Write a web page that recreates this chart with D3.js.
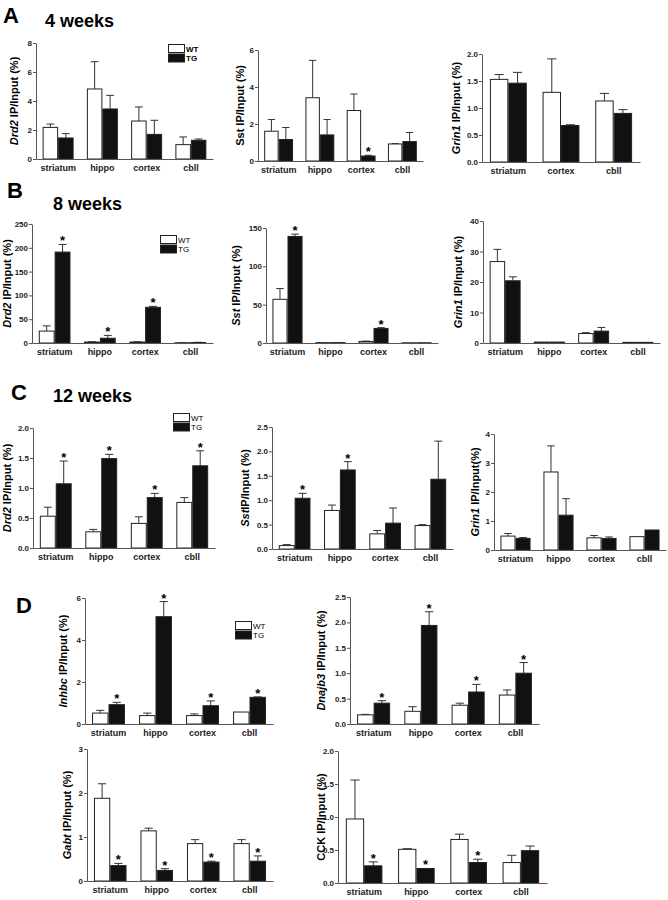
<!DOCTYPE html>
<html>
<head>
<meta charset="utf-8">
<script src="https://cdn.jsdelivr.net/npm/d3@7"></script>
<style>
  body { margin: 0; background: #fff; }
  text { font-family: "Liberation Sans", Arial, sans-serif; }
</style>
</head>
<body>
<div id="fig"></div>
<script>
// categories
var regions = ["striatum", "hippo", "cortex", "cbll"]
var regions3 = ["striatum", "cortex", "cbll"]
var groups = ["WT", "TG"]

// A: 4 weeks
var drd2_4w_wt = [2.18, 4.83, 2.62, 0.99], drd2_4w_wtErr = [0.23, 1.88, 0.97, 0.53]
var drd2_4w_tg = [1.45, 3.45, 1.70, 1.29], drd2_4w_tgErr = [0.30, 0.94, 0.97, 0.09]
var drd2_4w_sig = [0, 0, 0, 0]
var sst_4w_wt = [1.61, 3.42, 2.73, 0.92], sst_4w_wtErr = [0.63, 2.02, 0.89, 0.02]
var sst_4w_tg = [1.16, 1.41, 0.27, 1.05], sst_4w_tgErr = [0.65, 0.83, 0.04, 0.49]
var sst_4w_sig = [0, 0, 1, 0]
var grin1_4w_wt = [1.53, 1.29, 1.13], grin1_4w_wtErr = [0.09, 0.62, 0.14]
var grin1_4w_tg = [1.46, 0.675, 0.90], grin1_4w_tgErr = [0.20, 0.015, 0.07]
var grin1_4w_sig = [0, 0, 0]

// B: 8 weeks
var drd2_8w_wt = [25, 2, 2, 0.5], drd2_8w_wtErr = [11, 0.5, 0.5, 0.2]
var drd2_8w_tg = [191, 10, 75, 1], drd2_8w_tgErr = [16, 6, 2, 0.5]
var drd2_8w_sig = [1, 1, 1, 0]
var sst_8w_wt = [57, 0.5, 2, 0.3], sst_8w_wtErr = [14, 0, 0.5, 0]
var sst_8w_tg = [139, 0.5, 19, 0.3], sst_8w_tgErr = [3, 0, 1, 0]
var sst_8w_sig = [1, 0, 1, 0]
var grin1_8w_wt = [26.7, 0.3, 3.1, 0.2], grin1_8w_wtErr = [4, 0, 0.3, 0]
var grin1_8w_tg = [20.4, 0.3, 3.9, 0.2], grin1_8w_tgErr = [1.3, 0, 1.2, 0]
var grin1_8w_sig = [0, 0, 0, 0]

// C: 12 weeks
var drd2_12w_wt = [0.53, 0.27, 0.41, 0.76], drd2_12w_wtErr = [0.15, 0.04, 0.11, 0.08]
var drd2_12w_tg = [1.07, 1.49, 0.84, 1.37], drd2_12w_tgErr = [0.38, 0.07, 0.07, 0.25]
var drd2_12w_sig = [1, 1, 1, 1]
var sst_12w_wt = [0.07, 0.79, 0.31, 0.48], sst_12w_wtErr = [0.02, 0.11, 0.07, 0.02]
var sst_12w_tg = [1.04, 1.62, 0.53, 1.43], sst_12w_tgErr = [0.10, 0.17, 0.31, 0.78]
var sst_12w_sig = [1, 1, 0, 0]
var grin1_12w_wt = [0.48, 2.69, 0.42, 0.46], grin1_12w_wtErr = [0.09, 0.90, 0.08, 0]
var grin1_12w_tg = [0.40, 1.20, 0.40, 0.69], grin1_12w_tgErr = [0.03, 0.57, 0.05, 0]
var grin1_12w_sig = [0, 0, 0, 0]

// D: other genes
var inhbc_wt = [0.52, 0.40, 0.40, 0.57], inhbc_wtErr = [0.13, 0.12, 0.08, 0]
var inhbc_tg = [0.92, 5.11, 0.87, 1.27], inhbc_tgErr = [0.11, 0.72, 0.23, 0.02]
var inhbc_sig = [1, 1, 1, 1]
var dnajb3_wt = [0.18, 0.25, 0.37, 0.57], dnajb3_wtErr = [0.01, 0.09, 0.04, 0.10]
var dnajb3_tg = [0.41, 1.94, 0.63, 1.00], dnajb3_tgErr = [0.05, 0.27, 0.15, 0.21]
var dnajb3_sig = [1, 1, 1, 1]
var gabt_wt = [1.88, 1.14, 0.85, 0.85], gabt_wtErr = [0.33, 0.06, 0.09, 0.09]
var gabt_tg = [0.35, 0.24, 0.43, 0.45], gabt_tgErr = [0.05, 0.04, 0.02, 0.12]
var gabt_sig = [1, 1, 1, 1]
var cck_wt = [0.97, 0.51, 0.66, 0.31], cck_wtErr = [0.59, 0.01, 0.08, 0.11]
var cck_tg = [0.26, 0.22, 0.31, 0.49], cck_tgErr = [0.06, 0, 0.05, 0.07]
var cck_sig = [1, 1, 1, 0]

// y tick labels
var ticksA1 = [0, 2, 4, 6, 8], ticksA2 = [0, 2, 4, 6], ticksA3 = [0, 0.5, 1, 1.5, 2]
var ticksB1 = [0, 50, 100, 150, 200, 250], ticksB2 = [0, 50, 100, 150], ticksB3 = [0, 10, 20, 30, 40]
var ticksC1 = [0, 0.5, 1, 1.5, 2], ticksC2 = [0, 0.5, 1, 1.5, 2, 2.5], ticksC3 = [0, 1, 2, 3, 4]
var ticksD1 = [0, 2, 4, 6], ticksD2 = [0, 0.5, 1, 1.5, 2, 2.5], ticksD3 = [0, 1, 2, 3], ticksD4 = [0, 0.5, 1, 1.5, 2]

var W = 668, H = 900
var svg = d3.select("#fig").append("svg")
    .attr("width", W)
    .attr("height", H)

var int = d3.format("d"), dec = d3.format(".1f")

// one entry per small chart; x0/x1/top/bot are the plot frame in page pixels
var panels = [
  {cats: regions, wt: drd2_4w_wt, wtErr: drd2_4w_wtErr, tg: drd2_4w_tg, tgErr: drd2_4w_tgErr, sig: drd2_4w_sig,
   ticks: ticksA1, fmt: int, gene: "Drd2", rest: " IP/Input (%)", x0: 36, x1: 213, top: 43, bot: 159, lx: 14,
   legend: {x: 168, y: 44, bold: true}},
  {cats: regions, wt: sst_4w_wt, wtErr: sst_4w_wtErr, tg: sst_4w_tg, tgErr: sst_4w_tgErr, sig: sst_4w_sig,
   ticks: ticksA2, fmt: int, gene: "Sst", upright: true, rest: " IP/Input (%)", x0: 258, x1: 423, top: 50, bot: 161, lx: 240},
  {cats: regions3, wt: grin1_4w_wt, wtErr: grin1_4w_wtErr, tg: grin1_4w_tg, tgErr: grin1_4w_tgErr, sig: grin1_4w_sig,
   ticks: ticksA3, fmt: dec, gene: "Grin1", rest: " IP/Input (%)", x0: 482, x1: 640, top: 54, bot: 162, lx: 456},

  {cats: regions, wt: drd2_8w_wt, wtErr: drd2_8w_wtErr, tg: drd2_8w_tg, tgErr: drd2_8w_tgErr, sig: drd2_8w_sig,
   ticks: ticksB1, fmt: int, gene: "Drd2", rest: " IP/Input (%)", x0: 32, x1: 213, top: 224, bot: 343, lx: 7,
   legend: {x: 160, y: 235, bold: false}},
  {cats: regions, wt: sst_8w_wt, wtErr: sst_8w_wtErr, tg: sst_8w_tg, tgErr: sst_8w_tgErr, sig: sst_8w_sig,
   ticks: ticksB2, fmt: int, gene: "Sst", rest: " IP/Input (%)", x0: 266, x1: 438, top: 228, bot: 343, lx: 236},
  {cats: regions, wt: grin1_8w_wt, wtErr: grin1_8w_wtErr, tg: grin1_8w_tg, tgErr: grin1_8w_tgErr, sig: grin1_8w_sig,
   ticks: ticksB3, fmt: int, gene: "Grin1", rest: " IP/Input (%)", x0: 483, x1: 660, top: 221, bot: 343, lx: 458},

  {cats: regions, wt: drd2_12w_wt, wtErr: drd2_12w_wtErr, tg: drd2_12w_tg, tgErr: drd2_12w_tgErr, sig: drd2_12w_sig,
   ticks: ticksC1, fmt: dec, gene: "Drd2", rest: " IP/Input (%)", x0: 33, x1: 215, top: 428, bot: 548, lx: 7,
   legend: {x: 173, y: 413, bold: false}},
  {cats: regions, wt: sst_12w_wt, wtErr: sst_12w_wtErr, tg: sst_12w_tg, tgErr: sst_12w_tgErr, sig: sst_12w_sig,
   ticks: ticksC2, fmt: dec, gene: "Sst", rest: "IP/Input (%)", x0: 272, x1: 453, top: 427, bot: 549, lx: 245},
  {cats: regions, wt: grin1_12w_wt, wtErr: grin1_12w_wtErr, tg: grin1_12w_tg, tgErr: grin1_12w_tgErr, sig: grin1_12w_sig,
   ticks: ticksC3, fmt: int, gene: "Grin1", rest: " IP/Input(%)", x0: 494, x1: 666, top: 434, bot: 550, lx: 475},

  {cats: regions, wt: inhbc_wt, wtErr: inhbc_wtErr, tg: inhbc_tg, tgErr: inhbc_tgErr, sig: inhbc_sig,
   ticks: ticksD1, fmt: int, gene: "Inhbc", rest: " IP/Input (%)", x0: 85, x1: 273, top: 598, bot: 724, lx: 63,
   legend: {x: 235, y: 621, bold: false}},
  {cats: regions, wt: dnajb3_wt, wtErr: dnajb3_wtErr, tg: dnajb3_tg, tgErr: dnajb3_tgErr, sig: dnajb3_sig,
   ticks: ticksD2, fmt: dec, gene: "Dnajb3", rest: " IP/Input (%)", x0: 350, x1: 539, top: 597, bot: 724, lx: 321},
  {cats: regions, wt: gabt_wt, wtErr: gabt_wtErr, tg: gabt_tg, tgErr: gabt_tgErr, sig: gabt_sig,
   ticks: ticksD3, fmt: int, gene: "Gabt", rest: " IP/Input (%)", x0: 87, x1: 273, top: 749, bot: 881, lx: 67},
  {cats: regions, wt: cck_wt, wtErr: cck_wtErr, tg: cck_tg, tgErr: cck_tgErr, sig: cck_sig,
   ticks: ticksD4, fmt: dec, gene: "CCK", upright: true, rest: " IP/Input (%)", x0: 338, x1: 547, top: 751, bot: 883, lx: 321}
]

// panel letters and age titles
var letters = [["A", 3, 23], ["B", 7, 198], ["C", 11, 400], ["D", 16, 613]]
svg.selectAll("text.letter")
  .data(letters)
  .enter()
  .append("text")
    .attr("class", "letter")
    .attr("x", function(d) { return d[1] })
    .attr("y", function(d) { return d[2] })
    .style("font-size", "22px")
    .style("font-weight", "bold")
    .text(function(d) { return d[0] })

var titles = [["4 weeks", 45, 27], ["8 weeks", 53, 210], ["12 weeks", 53, 402]]
svg.selectAll("text.age")
  .data(titles)
  .enter()
  .append("text")
    .attr("class", "age")
    .attr("x", function(d) { return d[1] })
    .attr("y", function(d) { return d[2] })
    .style("font-size", "18px")
    .style("font-weight", "bold")
    .text(function(d) { return d[0] })

panels.forEach(function(p) {
  var g = svg.append("g")

  var x = d3.scaleBand()
    .domain(p.cats)
    .range([p.x0, p.x1])
    .paddingInner(0.3)
    .paddingOuter(0.15)
  var xg = d3.scaleBand()
    .domain(groups)
    .range([0, x.bandwidth()])
  var y = d3.scaleLinear()
    .domain([0, d3.max(p.ticks)])
    .range([p.bot, p.top])

  // flatten the two series into one list of bars
  var bars = []
  p.cats.forEach(function(c, i) {
    bars.push({cat: c, grp: "WT", v: p.wt[i], e: p.wtErr[i], sig: 0})
    bars.push({cat: c, grp: "TG", v: p.tg[i], e: p.tgErr[i], sig: p.sig[i]})
  })
  var bw = xg.bandwidth()
  function cx(d) { return x(d.cat) + xg(d.grp) + bw / 2 }

  // error bars (upper only), drawn under the bars
  var eb = bars.filter(function(d) { return d.e > 0 })
  g.selectAll("line.err")
    .data(eb)
    .enter()
    .append("line")
      .attr("x1", cx).attr("x2", cx)
      .attr("y1", function(d) { return y(d.v) })
      .attr("y2", function(d) { return y(d.v + d.e) })
      .attr("stroke", "#333")
      .attr("stroke-width", 1)
  g.selectAll("line.cap")
    .data(eb)
    .enter()
    .append("line")
      .attr("x1", function(d) { return cx(d) - bw * 0.25 })
      .attr("x2", function(d) { return cx(d) + bw * 0.25 })
      .attr("y1", function(d) { return y(d.v + d.e) })
      .attr("y2", function(d) { return y(d.v + d.e) })
      .attr("stroke", "#333")
      .attr("stroke-width", 1)

  g.selectAll("rect.bar")
    .data(bars)
    .enter()
    .append("rect")
      .attr("x", function(d) { return x(d.cat) + xg(d.grp) + 0.5 })
      .attr("y", function(d) { return y(d.v) })
      .attr("width", bw - 1)
      .attr("height", function(d) { return p.bot - y(d.v) })
      .attr("fill", function(d) { return d.grp == "WT" ? "#fff" : "#111" })
      .attr("stroke", "#222")
      .attr("stroke-width", 1)

  // significance stars
  g.selectAll("text.star")
    .data(bars.filter(function(d) { return d.sig }))
    .enter()
    .append("text")
      .attr("x", cx)
      .attr("y", function(d) { return y(d.v + d.e) + 1 })
      .attr("text-anchor", "middle")
      .style("font-size", "13px")
      .style("font-weight", "bold")
      .text("*")

  // axes
  var ya = g.append("g")
    .attr("transform", "translate(" + p.x0 + ",0)")
    .call(d3.axisLeft(y).tickValues(p.ticks).tickFormat(p.fmt).tickSize(3).tickSizeOuter(0).tickPadding(1))
  ya.select(".domain").attr("stroke", "#555")
  ya.selectAll(".tick line").attr("stroke", "#555")
  ya.selectAll(".tick text")
    .style("font-size", "8px")
    .style("font-weight", "bold")
    .style("font-family", "'Liberation Sans', Arial, sans-serif")
    .attr("fill", "#222")

  var xa = g.append("g")
    .attr("transform", "translate(0," + p.bot + ")")
    .call(d3.axisBottom(x).tickSize(0).tickSizeOuter(0).tickPadding(6))
  xa.select(".domain").attr("stroke", "#555")
  xa.selectAll(".tick text")
    .style("font-size", "9px")
    .style("font-weight", "bold")
    .style("font-family", "'Liberation Sans', Arial, sans-serif")
    .attr("fill", "#222")

  // y label: gene name in italics
  var lab = g.append("text")
    .attr("transform", "translate(" + p.lx + "," + (p.top + p.bot) / 2 + ") rotate(-90)")
    .attr("text-anchor", "middle")
    .attr("dy", "0.35em")
    .style("font-size", "11px")
    .style("font-weight", "bold")
  lab.append("tspan")
    .style("font-style", p.upright ? "normal" : "italic")
    .text(p.gene)
  lab.append("tspan").text(p.rest)

  if (p.legend) {
    var lg = g.append("g").attr("transform", "translate(" + p.legend.x + "," + p.legend.y + ")")
    lg.selectAll("rect")
      .data(groups)
      .enter()
      .append("rect")
        .attr("x", 0.5)
        .attr("y", function(d, i) { return i * 9.5 + 0.5 })
        .attr("width", 16)
        .attr("height", 8)
        .attr("fill", function(d) { return d == "WT" ? "#fff" : "#111" })
        .attr("stroke", "#222")
    lg.selectAll("text")
      .data(groups)
      .enter()
      .append("text")
        .attr("x", 18)
        .attr("y", function(d, i) { return i * 9.5 + 7.5 })
        .style("font-size", "8px")
        .style("font-weight", p.legend.bold ? "bold" : "normal")
        .text(function(d) { return d })
  }
})
</script>
</body>
</html>
